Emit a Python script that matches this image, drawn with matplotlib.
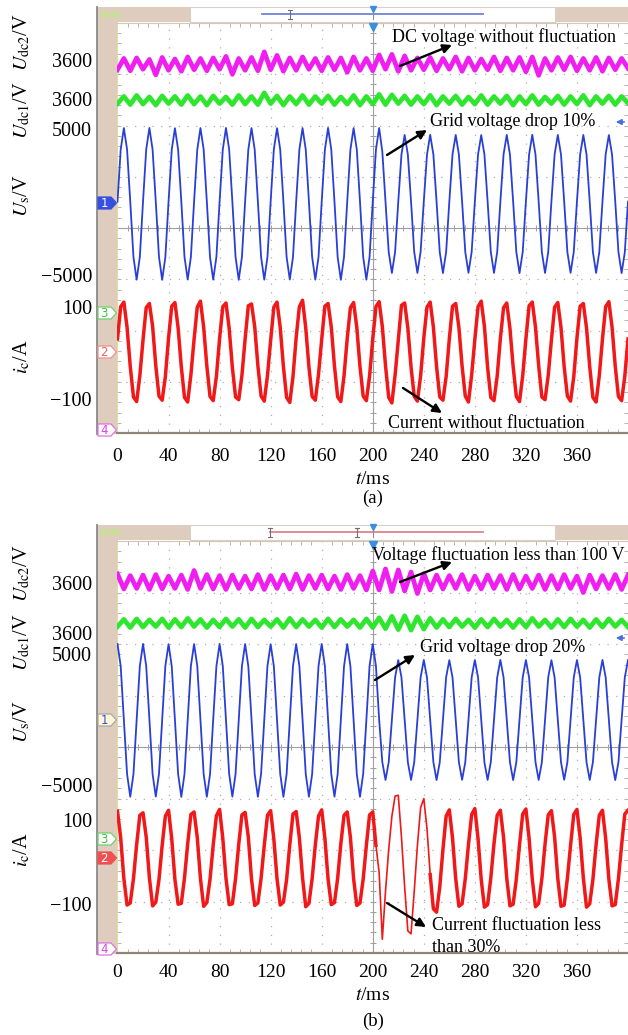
import numpy as np
import matplotlib.pyplot as plt
from matplotlib.patches import Rectangle, Polygon
from matplotlib.ticker import MultipleLocator

plt.rcParams['font.family'] = ['Liberation Serif', 'DejaVu Serif']
plt.rcParams['mathtext.fontset'] = 'stix'

# ---------------- data ----------------
t_dc = np.arange(0, 401, 5)        # ms, sample times of the dc traces
t_ac = np.arange(0, 400.1, 2.5)    # ms, sample times of the ac traces
xtick_vals = [0, 40, 80, 120, 160, 200, 240, 280, 320, 360]

# (a) grid voltage drop 10 %
udc2_a = [3581, 3603, 3579, 3604, 3582, 3601, 3571, 3605, 3580, 3602,
          3578, 3606, 3581, 3603, 3579, 3604, 3582, 3607, 3572, 3603,
          3580, 3605, 3579, 3616, 3581, 3609, 3578, 3604, 3580, 3606,
          3582, 3603, 3579, 3605, 3581, 3604, 3576, 3606, 3580, 3603,
          3579, 3610, 3582, 3611, 3578, 3608, 3580, 3604, 3581, 3605,
          3579, 3603, 3582, 3606, 3578, 3604, 3580, 3602, 3581, 3606,
          3579, 3604, 3580, 3605, 3577, 3606, 3570, 3603, 3580, 3605,
          3581, 3606, 3579, 3603, 3580, 3605, 3578, 3604, 3581, 3603,
          3584]
udc1_a = [3592, 3606, 3590, 3608, 3591, 3605, 3589, 3607, 3592, 3606,
          3590, 3608, 3591, 3606, 3589, 3607, 3592, 3605, 3590, 3608,
          3591, 3606, 3590, 3613, 3592, 3607, 3589, 3606, 3591, 3608,
          3590, 3606, 3592, 3607, 3590, 3605, 3591, 3608, 3589, 3606,
          3591, 3610, 3590, 3609, 3592, 3607, 3590, 3606, 3591, 3608,
          3589, 3606, 3592, 3607, 3590, 3605, 3591, 3608, 3590, 3606,
          3592, 3607, 3589, 3606, 3591, 3608, 3590, 3605, 3592, 3607,
          3590, 3606, 3591, 3608, 3589, 3606, 3592, 3607, 3590, 3606,
          3593]
us_a = [0, 3560, 5030, 3560, 0, -3790, -5340, -3790,
        10, 3570, 5040, 3550, -10, -3780, -5350, -3800,
        0, 3560, 5020, 3560, 10, -3790, -5330, -3790,
        -10, 3550, 5030, 3570, 0, -3800, -5340, -3780,
        0, 3560, 5040, 3560, 0, -3790, -5350, -3790,
        10, 3560, 5030, 3550, 0, -3780, -5340, -3790,
        0, 3570, 5020, 3560, -10, -3790, -5330, -3800,
        0, 3560, 5030, 3560, 0, -3790, -5340, -3790,
        -10, 3550, 5040, 3570, 10, -3800, -5350, -3780,
        0, 3560, 5030, 3560, 0, -3790, -5340, -3790,
        0, 3560, 5030, 3420, 0, -3450, -4880, -3450,
        0, 3230, 4560, 3220, 0, -3450, -4880, -3440,
        10, 3220, 4570, 3230, -10, -3460, -4890, -3450,
        0, 3230, 4560, 3220, 0, -3450, -4870, -3450,
        0, 3220, 4550, 3230, 10, -3440, -4880, -3460,
        -10, 3230, 4560, 3220, 0, -3450, -4890, -3450,
        0, 3220, 4570, 3230, 0, -3460, -4880, -3440,
        10, 3230, 4560, 3220, -10, -3450, -4870, -3450,
        0, 3220, 4560, 3230, 0, -3450, -4880, -3450,
        0, 3230, 4550, 3220, 10, -3440, -4890, -3460,
        0]
ic_a = [30, 100, 110, 55, -30, -96, -106, -50,
        28, 98, 107, 58, -28, -94, -103, -52,
        32, 101, 109, 54, -31, -97, -107, -48,
        29, 99, 112, 56, -29, -95, -104, -51,
        31, 100, 108, 53, -32, -96, -102, -49,
        30, 102, 106, 57, -28, -94, -105, -50,
        27, 99, 110, 55, -30, -97, -108, -52,
        33, 100, 114, 54, -31, -95, -103, -47,
        29, 101, 107, 56, -29, -96, -106, -50,
        31, 98, 109, 55, -30, -94, -104, -51,
        30, 100, 111, 57, -28, -97, -109, -49,
        28, 103, 108, 54, -31, -95, -105, -50,
        32, 99, 110, 56, -30, -96, -103, -52,
        30, 101, 107, 55, -29, -94, -107, -48,
        29, 100, 112, 57, -32, -97, -104, -51,
        31, 98, 108, 53, -30, -95, -106, -50,
        30, 102, 110, 56, -28, -96, -102, -49,
        28, 99, 109, 55, -31, -94, -105, -52,
        32, 101, 107, 54, -30, -97, -107, -50,
        30, 100, 111, 56, -29, -95, -104, -51,
        30]

# (b) grid voltage drop 20 %
udc2_b = [3618, 3589, 3615, 3590, 3616, 3588, 3617, 3589, 3614, 3590,
          3616, 3588, 3625, 3590, 3617, 3589, 3615, 3588, 3616, 3590,
          3614, 3589, 3617, 3588, 3615, 3590, 3616, 3589, 3618, 3588,
          3615, 3590, 3616, 3589, 3614, 3588, 3617, 3590, 3615, 3587,
          3624, 3587, 3628, 3584, 3626, 3585, 3622, 3580, 3619, 3587,
          3616, 3589, 3615, 3590, 3617, 3588, 3614, 3589, 3616, 3590,
          3615, 3588, 3617, 3589, 3614, 3590, 3616, 3588, 3615, 3589,
          3617, 3590, 3614, 3582, 3616, 3589, 3615, 3590, 3617, 3588,
          3616]
udc1_b = [3612, 3626, 3610, 3627, 3611, 3625, 3612, 3627, 3610, 3626,
          3611, 3628, 3612, 3626, 3610, 3625, 3611, 3627, 3612, 3626,
          3610, 3627, 3611, 3625, 3612, 3626, 3610, 3628, 3611, 3626,
          3612, 3625, 3610, 3627, 3611, 3626, 3612, 3625, 3610, 3627,
          3610, 3629, 3608, 3632, 3606, 3633, 3605, 3631, 3607, 3628,
          3610, 3626, 3611, 3627, 3612, 3625, 3610, 3626, 3611, 3627,
          3612, 3625, 3610, 3626, 3611, 3628, 3612, 3625, 3610, 3626,
          3611, 3627, 3612, 3625, 3610, 3626, 3611, 3627, 3612, 3625,
          3611]
us_b = [5780, 4090, 0, -4200, -5940, -4200, 0, 4090,
        5790, 4080, 10, -4210, -5930, -4190, -10, 4100,
        5770, 4090, 0, -4200, -5950, -4200, 0, 4090,
        5780, 4100, -10, -4190, -5940, -4210, 10, 4080,
        5790, 4090, 0, -4200, -5930, -4200, 0, 4090,
        5780, 4080, 10, -4210, -5940, -4190, 0, 4100,
        5770, 4090, 0, -4200, -5950, -4200, -10, 4090,
        5780, 4100, 0, -4190, -5940, -4210, 10, 4080,
        5790, 4090, -10, -4200, -5930, -4200, 0, 4090,
        5780, 4080, 0, -4210, -5940, -4190, 0, 4100,
        5780, 4090, 0, -3290, -4650, -3290, 0, 3220,
        4550, 3220, 0, -3290, -4650, -3290, 0, 3220,
        4560, 3210, 10, -3280, -4660, -3300, -10, 3230,
        4540, 3220, 0, -3290, -4640, -3290, 0, 3220,
        4550, 3230, -10, -3300, -4650, -3280, 10, 3210,
        4560, 3220, 0, -3290, -4660, -3290, 0, 3220,
        4550, 3210, 10, -3280, -4650, -3300, 0, 3230,
        4540, 3220, 0, -3290, -4640, -3290, -10, 3220,
        4550, 3230, 0, -3300, -4650, -3280, 0, 3210,
        4560, 3220, -10, -3290, -4660, -3290, 10, 3220,
        4550]
ic_b = [122, 58, -40, -103, -98, -40, 42, 112,
        118, 60, -38, -105, -96, -42, 40, 110,
        124, 56, -42, -101, -99, -38, 44, 114,
        120, 59, -40, -106, -97, -41, 41, 111,
        126, 57, -39, -102, -100, -40, 43, 113,
        119, 60, -41, -104, -98, -39, 40, 112,
        123, 55, -40, -103, -96, -42, 42, 115,
        121, 58, -38, -107, -99, -40, 41, 110,
        125, 57, -41, -102, -97, -39, 44, 112,
        120, 59, -40, -104, -98, -41, 40, 113,
        120, 40, -25, -185, -70, 30, 110, 158,
        160, 60, -60, -165, -172, -70, 40, 130,
        152, 80, -30, -112, -120, -60, 30, 110,
        125, 58, -40, -106, -100, -40, 42, 114,
        128, 56, -42, -108, -102, -38, 44, 112,
        124, 59, -39, -105, -101, -41, 41, 115,
        127, 57, -41, -107, -99, -40, 43, 113,
        123, 60, -40, -106, -103, -39, 40, 114,
        126, 58, -38, -108, -100, -42, 42, 112,
        124, 57, -41, -105, -102, -40, 41, 115,
        124]

# ---------------- layout (pixel units of the 628 x 1035 picture) ----------------
W, H = 628, 1035
X0 = 117.5
BEIGE = '#decdbe'
C_MAG, C_GRN, C_BLU, C_RED = '#f01ef0', '#2ee62e', '#2a3fd6', '#f01818'

fig = plt.figure(figsize=(W / 100, H / 100), dpi=100)
bg = fig.add_axes([0, 0, 1, 1], label='bg', zorder=0)
bg.set_xlim(0, W); bg.set_ylim(H, 0); bg.axis('off')
top = fig.add_axes([0, 0, 1, 1], label='top', zorder=10)
top.set_xlim(0, W); top.set_ylim(H, 0); top.axis('off')
top.patch.set_alpha(0)


def rect_of(T, B):
    return [X0 / W, 1 - B / H, (W - X0) / W, (B - T) / H]


def draw_frame(T, B, bar_col, bar_x0, brackets):
    bg.add_patch(Rectangle((97, T - 16), 20.5, B - T + 17, color=BEIGE, lw=0))
    bg.add_patch(Rectangle((97, T - 16), 93, 15, color=BEIGE, lw=0))
    bg.add_patch(Rectangle((555, T - 16), 73, 15, color=BEIGE, lw=0))
    bg.add_patch(Rectangle((190, T - 16), 365, 15, facecolor='white',
                           edgecolor='#d8d0c8', lw=0.8))
    bg.plot([97, 97], [T - 16, B + 1], color='#8a8a8a', lw=1.3)
    bg.plot([bar_x0, 483], [T - 9, T - 9], color=bar_col, lw=1.3)
    for bx in brackets:
        bg.plot([bx, bx], [T - 13, T - 4], color='#707070', lw=0.8)
        bg.plot([bx - 2, bx + 2], [T - 13, T - 13], color='#707070', lw=0.8)
        bg.plot([bx - 2, bx + 2], [T - 4, T - 4], color='#707070', lw=0.8)
    bg.plot([373, 373], [T - 13, T - 4], color='#909090', lw=0.8)
    bg.plot(373, T - 14, marker='v', color='#3b8fe0', ms=4)
    top.text(100, T - 8, 'Info', color='#c4e48a', fontsize=7,
             family='DejaVu Sans', weight='bold', va='center')
    top.plot(373, T + 4, marker='v', color='#3b8fe0', ms=6)


def draw_scope(T, B, xpad):
    ax = fig.add_axes(rect_of(T, B), zorder=1)
    ax.set_xlim(0, 400); ax.set_ylim(-4, 4)
    for x in range(40, 400, 40):
        if x != 200:
            ax.axvline(x, color='#b0b0b0', lw=0.9, ls=(0, (1, 6)))
    for y in [-3, -2, -1, 1, 2, 3]:
        ax.axhline(y, color='#b0b0b0', lw=0.9, ls=(0, (1, 6)))
    ax.axvline(200, color='#a0a0a0', lw=0.8)
    ax.axhline(0, color='#a0a0a0', lw=0.8)
    ax.plot(np.arange(0, 401, 8), np.zeros(51), ls='none', marker='|',
            ms=4, color='#a0a0a0', mew=0.7)
    ax.plot(np.full(41, 200), np.linspace(-4, 4, 41), ls='none', marker='_',
            ms=4, color='#a0a0a0', mew=0.7)
    ax.set_xticks(xtick_vals)
    ax.set_xticklabels([str(v) for v in xtick_vals], fontsize=14)
    ax.set_yticks([])
    ax.tick_params(axis='x', length=0, pad=xpad)
    ax.xaxis.set_minor_locator(MultipleLocator(8))
    ax.yaxis.set_minor_locator(MultipleLocator(0.2))
    ax.tick_params(which='minor', direction='in', length=3, color='#a8a8a8',
                   top=True, right=True, left=True, bottom=True)
    ax.spines['bottom'].set_color('#8f8478'); ax.spines['bottom'].set_linewidth(1.6)
    ax.spines['top'].set_color('#d6c6b4')
    ax.spines['left'].set_color('#e4dc9c')
    ax.spines['right'].set_visible(False)
    return ax


def channel(T, B, ticks, tick_px, labels, scale=None):
    ax = fig.add_axes(rect_of(T, B), zorder=2)
    ax.patch.set_alpha(0)
    for s in ax.spines.values():
        s.set_visible(False)
    ax.set_xlim(0, 400)
    ax.set_xticks([])
    if scale is None:
        scale = (tick_px[1] - tick_px[0]) / (ticks[0] - ticks[1])
    v1, y1 = ticks[0], tick_px[0]
    ax.set_ylim(v1 - (B - y1) / scale, v1 + (y1 - T) / scale)
    ax.set_yticks(ticks)
    ax.set_yticklabels(labels)
    ax.tick_params(axis='y', length=0, pad=18.4, labelsize=14.5)
    return ax


def chan_marker(num, y, face, edge, txt):
    bg.add_patch(Polygon([(98, y - 6), (111, y - 6), (116.5, y), (111, y + 6), (98, y + 6)],
                         closed=True, facecolor=face, edgecolor=edge, lw=0.9, zorder=3))
    bg.text(104, y + 0.5, num, color=txt, fontsize=8.5, family='DejaVu Sans',
            ha='center', va='center', zorder=4)


def arrow(head, tail):
    top.annotate('', xy=head, xytext=tail,
                 arrowprops=dict(arrowstyle='-|>', color='k', lw=1.7,
                                 mutation_scale=13, shrinkA=0, shrinkB=0))


DC_SCALE = 51.25 / 100   # px per V (100 V / div)

# ---------------- panel (a) ----------------
Ta, Ba = 23, 433
draw_frame(Ta, Ba, '#6f82dc', 262, [290])
draw_scope(Ta, Ba, 11)
ax = channel(Ta, Ba, [3600], [60], ['3600'], DC_SCALE)
ax.plot(t_dc, udc2_a, color=C_MAG, lw=3.4)
ax = channel(Ta, Ba, [3600], [99.5], ['3600'], DC_SCALE)
ax.plot(t_dc, udc1_a, color=C_GRN, lw=3.4)
ax = channel(Ta, Ba, [5000, -5000], [128.5, 274.7], ['5000', '\u22125000'])
ax.plot(t_ac, us_a, color=C_BLU, lw=1.3)
ax = channel(Ta, Ba, [100, -100], [306.7, 398.8], ['100', '\u2212100'])
ax.plot(t_ac, ic_a, color=C_RED, lw=2.5)

chan_marker('1', 203, '#3550e0', '#3550e0', 'white')
chan_marker('3', 313, 'white', '#70d070', '#40c040')
chan_marker('2', 352, 'white', '#f09090', '#f06060')
chan_marker('4', 430, 'white', '#e070e0', '#e040e0')
top.annotate('', xy=(613, 122), xytext=(627, 122),
             arrowprops=dict(arrowstyle='-|>', color='#4a6fe0', lw=1.2, mutation_scale=8))

for txt, yc in [(r'$U_{\mathrm{dc2}}$/V', 42), (r'$U_{\mathrm{dc1}}$/V', 110),
                (r'$U_{\mathrm{s}}$/V', 196), (r'$i_{\mathrm{c}}$/A', 357)]:
    top.text(22, yc, txt, rotation=90, fontsize=14.5, ha='center', va='center')

top.text(392, 37, 'DC voltage without fluctuation', fontsize=13, va='center')
arrow((452, 45), (400, 66))
top.text(430, 122, 'Grid voltage drop 10%', fontsize=13, va='center')
arrow((427, 130), (387, 155))
top.text(388, 424, 'Current without fluctuation', fontsize=13, va='center')
arrow((442, 413), (403, 388))
top.text(373, 480, r'$t$/ms', fontsize=14, ha='center', va='center')
top.text(373, 498, '(a)', fontsize=13.5, ha='center', va='center')

# ---------------- panel (b) ----------------
Tb, Bb = 541, 953
draw_frame(Tb, Bb, '#e4808c', 270, [270, 357])
draw_scope(Tb, Bb, 8)
ax = channel(Tb, Bb, [3600], [583.3], ['3600'], DC_SCALE)
ax.plot(t_dc, udc2_b, color=C_MAG, lw=3.4)
ax = channel(Tb, Bb, [3600], [632.7], ['3600'], DC_SCALE)
ax.plot(t_dc, udc1_b, color=C_GRN, lw=3.4)
ax = channel(Tb, Bb, [5000, -5000], [654.2, 784.5], ['5000', '\u22125000'])
ax.plot(t_ac, us_b, color=C_BLU, lw=1.3)
ax = channel(Tb, Bb, [100, -100], [820.3, 903.8], ['100', '\u2212100'])
ax.plot(t_ac[:82], ic_b[:82], color=C_RED, lw=2.5)
ax.plot(t_ac[81:99], ic_b[81:99], color=C_RED, lw=1.2)
ax.plot(t_ac[98:], ic_b[98:], color=C_RED, lw=2.5)

chan_marker('1', 720, '#fff6d6', '#a8a8a8', '#3050e0')
chan_marker('3', 839, 'white', '#70d070', '#40c040')
chan_marker('2', 858, '#f05050', '#f05050', 'white')
chan_marker('4', 949, 'white', '#e070e0', '#e040e0')
top.annotate('', xy=(613, 638), xytext=(627, 638),
             arrowprops=dict(arrowstyle='-|>', color='#4a6fe0', lw=1.2, mutation_scale=8))

for txt, yc in [(r'$U_{\mathrm{dc2}}$/V', 573), (r'$U_{\mathrm{dc1}}$/V', 642),
                (r'$U_{\mathrm{s}}$/V', 722), (r'$i_{\mathrm{c}}$/A', 850)]:
    top.text(22, yc, txt, rotation=90, fontsize=14.5, ha='center', va='center')

top.text(372, 555, 'Voltage fluctuation less than 100 V', fontsize=13, va='center')
arrow((452, 562), (400, 582))
top.text(420, 648, 'Grid voltage drop 20%', fontsize=13, va='center')
arrow((415, 655), (375, 680))
top.text(432, 925, 'Current fluctuation less', fontsize=13, va='center')
top.text(432, 948, 'than 30%', fontsize=13, va='center')
arrow((426, 927), (387, 903))
top.text(373, 995, r'$t$/ms', fontsize=14, ha='center', va='center')
top.text(373, 1021, '(b)', fontsize=13.5, ha='center', va='center')

fig.savefig('out.png', dpi=100)
